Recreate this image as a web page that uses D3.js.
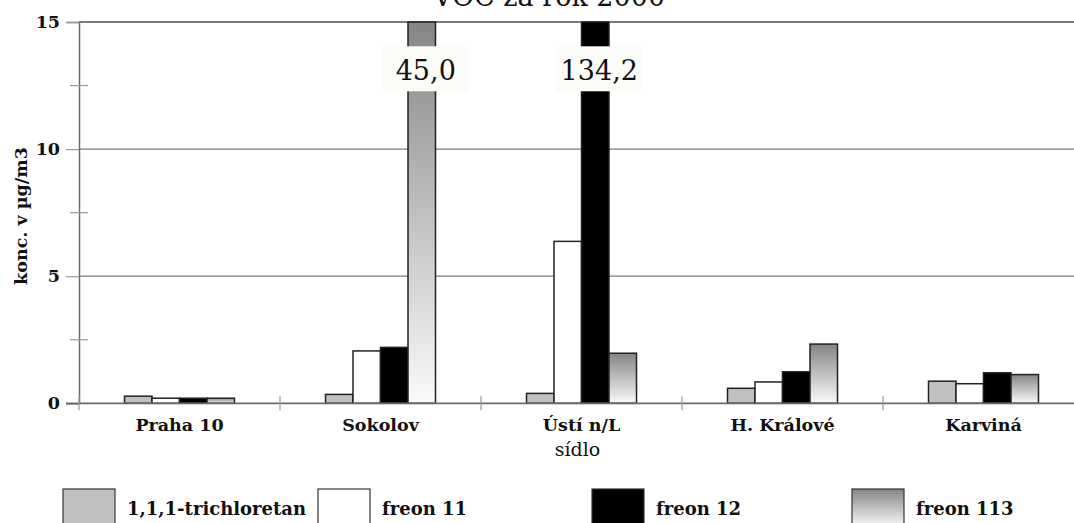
<!DOCTYPE html>
<html><head><meta charset="utf-8">
<script src="https://cdn.jsdelivr.net/npm/d3@7"></script>
<style>
html,body{margin:0;padding:0;background:#fff;overflow:hidden}
svg{display:block}
text{font-family:"DejaVu Serif",serif;fill:#111}
</style></head>
<body>
<svg id="c" width="1074" height="523"></svg>
<script>
const title = "VOC za rok 2000";
const categories = ["Praha 10", "Sokolov", "Ústí n/L", "H. Králové", "Karviná"];
const seriesNames = ["1,1,1-trichloretan", "freon 11", "freon 12", "freon 113"];
const trichloretan = [0.28, 0.35, 0.39, 0.59, 0.87];
const freon11 = [0.20, 2.06, 6.37, 0.84, 0.77];
const freon12 = [0.20, 2.20, 134.2, 1.24, 1.20];
const freon113 = [0.20, 45.0, 1.97, 2.33, 1.13];
const yTicks = [0, 5, 10, 15];
const yMinorTicks = [2.5, 7.5, 12.5];
const yLabel = "konc. v µg/m3";
const xLabel = "sídlo";

(function () {
const FONT = '"DejaVu Serif", serif';
const seriesValues = [trichloretan, freon11, freon12, freon113];
const fills = ["#c0c0c0", "#ffffff", "#000000", "url(#g113)"];

const svg = d3.select("#c");
const defs = svg.append("defs");
const g = defs.append("linearGradient").attr("id", "g113").attr("x1", 0).attr("y1", 0).attr("x2", 0).attr("y2", 1);
g.append("stop").attr("offset", "0%").attr("stop-color", "#858585");
g.append("stop").attr("offset", "100%").attr("stop-color", "#fafafa");

const mLeft = 79, mRight = 1084, mTop = 22, mBottom = 403.3;
const yMax = 15;
const x = d3.scaleBand().domain(categories).range([mLeft, mRight]).padding(0);
const y = d3.scaleLinear().domain([0, yMax]).range([mBottom, mTop]);
const groupW = 110;
const xs = d3.scaleBand().domain(seriesNames).range([0, groupW]).padding(0);

// gridlines
svg.append("g").selectAll("line").data(yTicks.filter(d => d > 0)).join("line")
  .attr("x1", mLeft).attr("x2", 1074).attr("y1", d => y(d)).attr("y2", d => y(d))
  .attr("stroke", "#7a7a7a").attr("stroke-width", d => d === yMax ? 2 : 1.2);

// y axis
const yAxis = svg.append("g").attr("transform", `translate(${mLeft},0)`)
  .call(d3.axisLeft(y).tickValues(yTicks).tickSize(13).tickPadding(6).tickFormat(d3.format("d")));
yAxis.attr("font-family", FONT);
yAxis.select(".domain").attr("stroke", "#6a6a6a").attr("stroke-width", 1.5);
yAxis.selectAll(".tick line").attr("stroke", "#999").attr("stroke-width", 1.2);
yAxis.selectAll(".tick text").style("font-family", FONT).attr("font-weight", "bold")
  .attr("font-size", 17.5).attr("fill", "#111");
svg.append("g").selectAll("line").data(yMinorTicks).join("line")
  .attr("x1", mLeft - 9).attr("x2", mLeft + 9).attr("y1", d => y(d)).attr("y2", d => y(d))
  .attr("stroke", "#999").attr("stroke-width", 1.2);

// bars
const groups = svg.append("g").selectAll("g").data(categories).join("g")
  .attr("transform", d => `translate(${x(d) + (x.bandwidth() - groupW) / 2},0)`);
groups.each(function (cat, ci) {
  d3.select(this).selectAll("rect").data(seriesNames.map((s, si) => ({ s, si, v: seriesValues[si][ci] })))
    .join("rect")
    .attr("x", d => xs(d.s))
    .attr("width", xs.bandwidth())
    .attr("y", d => y(Math.min(d.v, yMax)))
    .attr("height", d => y(0) - y(Math.min(d.v, yMax)))
    .attr("fill", d => fills[d.si])
    .attr("stroke", "#222").attr("stroke-width", 1.5);
});

// x axis
const xAxis = svg.append("g").attr("transform", `translate(0,${mBottom})`)
  .call(d3.axisBottom(x).tickSize(0).tickPadding(15));
xAxis.select(".domain").remove();
svg.append("line").attr("x1", mLeft - 13).attr("x2", 1074).attr("y1", mBottom).attr("y2", mBottom)
  .attr("stroke", "#6a6a6a").attr("stroke-width", 1.8);
xAxis.selectAll(".tick text").style("font-family", FONT).attr("font-weight", "bold")
  .attr("font-size", 17.5).attr("fill", "#111").attr("dy", "0.71em");
const bounds = categories.map(c => x(c));
svg.append("g").selectAll("line").data(bounds).join("line")
  .attr("x1", d => d).attr("x2", d => d).attr("y1", mBottom - 7).attr("y2", mBottom + 7)
  .attr("stroke", "#999").attr("stroke-width", 1.2);

// value labels for clipped bars
const clipped = [];
categories.forEach((c, ci) => seriesNames.forEach((s, si) => {
  const v = seriesValues[si][ci];
  if (v > yMax) clipped.push({ c, s, v });
}));
const lab = svg.append("g").selectAll("g").data(clipped).join("g")
  .attr("transform", d => `translate(${x(d.c) + (x.bandwidth() - groupW) / 2 + xs(d.s) + xs.bandwidth() / 2 + 4},${y(13.1)})`);
lab.append("rect").attr("x", -43).attr("y", -24).attr("width", 86).attr("height", 45).attr("fill", "#fbfbf8");
lab.append("text").attr("text-anchor", "middle").attr("dy", "0.35em").attr("font-size", 27)
  .text(d => d3.format(".1f")(d.v).replace(".", ","));

// title
svg.append("text").attr("x", 549).attr("y", 6).attr("text-anchor", "middle").attr("font-size", 27).text(title);

// axis titles
svg.append("text").attr("transform", `translate(27,216) rotate(-90)`).attr("text-anchor", "middle")
  .attr("font-weight", "bold").attr("font-size", 17.5).text(yLabel);
svg.append("text").attr("x", (mLeft + mRight) / 2 - 4).attr("y", 456).attr("text-anchor", "middle")
  .attr("font-size", 19).text(xLabel);

// legend
const legendX = [63, 318, 592, 852];
const leg = svg.append("g").selectAll("g").data(seriesNames).join("g")
  .attr("transform", (d, i) => `translate(${legendX[i]},489)`);
leg.append("rect").attr("width", 52).attr("height", 38).attr("fill", (d, i) => fills[i])
  .attr("stroke", "#333").attr("stroke-width", 1.2);
leg.append("text").attr("x", 64).attr("y", 26).attr("font-weight", "bold").attr("font-size", 18).text(d => d);
})();
</script>
</body></html>
